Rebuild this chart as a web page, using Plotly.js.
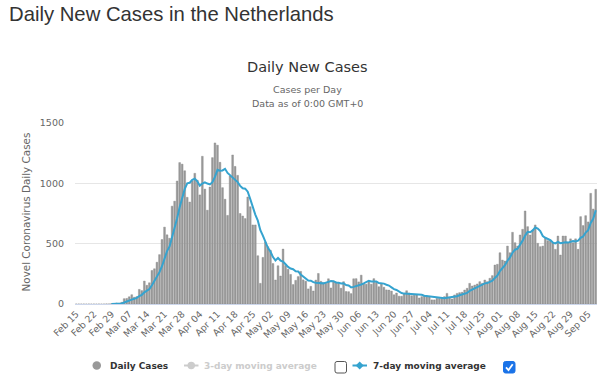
<!DOCTYPE html>
<html>
<head>
<meta charset="utf-8">
<script src="https://cdn.plot.ly/plotly-3.0.1.min.js"></script>
<style>
html,body{margin:0;padding:0;background:#fff;}
#chart{width:600px;height:380px;}
</style>
</head>
<body>
<div id="chart"></div>
<script>
// ---------- DATA ----------
const startDate = '2020-02-15';
const endDate = '2020-09-08';

const dailyCases = [
0,0,0,0,0,0,0,0,0,0,0,0,
1,1,4,4,8,6,14,44,46,60,
77,56,61,121,111,190,155,176,278,292,
346,409,534,637,573,545,811,852,1019,1172,
1159,1104,884,845,1019,1083,1026,904,1224,952,
777,969,1213,1335,1316,1174,964,868,734,1061,
1235,1140,1066,750,729,708,887,806,655,655,
400,171,386,514,475,445,335,199,317,232,
455,319,289,245,161,196,227,270,200,189,
125,146,108,198,253,188,176,172,209,133,
190,182,176,131,185,103,102,86,209,210,
183,239,165,164,184,164,210,179,143,165,
139,117,115,107,76,91,65,64,82,110,
91,69,73,76,50,61,66,66,61,34,
34,47,47,47,61,88,55,42,75,88,
94,97,116,130,171,149,157,166,185,171,
199,185,213,235,323,329,425,364,356,480,
425,594,508,480,572,619,771,641,572,613,
655,503,475,480,544,525,530,508,453,563,
406,563,563,508,540,508,540,453,724,650,
732,680,917,787,950
];

const movingAvg7 = [
null,null,null,null,null,null,null,null,null,null,null,null,null,null,
1,1,3,3,5,12,18,26,36,43,
51,66,76,97,110,124,156,189,221,264,
313,382,438,477,551,623,710,801,876,952,
1000,1005,1029,1038,1017,981,998,1008,998,991,
1009,1053,1112,1105,1107,1120,1086,1065,1050,1025,
1010,979,959,956,931,869,800,741,691,612,
566,512,465,435,389,361,382,360,351,329,
307,294,288,271,270,244,227,213,195,193,
181,177,174,172,171,177,186,190,189,179,
177,170,172,157,153,138,142,147,154,162,
171,179,193,187,187,186,173,173,169,160,
153,138,123,116,101,91,86,85,83,82,
79,81,79,76,69,66,65,59,53,53,
51,48,47,51,54,55,59,65,72,77,
81,92,110,121,131,141,153,161,171,173,
182,193,216,236,273,296,321,359,386,425,
450,458,488,525,567,598,595,610,635,625,
604,563,549,542,530,509,502,515,504,507,
512,509,514,522,518,525,548,560,592,612,
671,706,777
];

const tickDates = [
'2020-02-15','2020-02-22','2020-02-29','2020-03-07','2020-03-14','2020-03-21','2020-03-28',
'2020-04-04','2020-04-11','2020-04-18','2020-04-25','2020-05-02','2020-05-09','2020-05-16',
'2020-05-23','2020-05-30','2020-06-06','2020-06-13','2020-06-20','2020-06-27','2020-07-04',
'2020-07-11','2020-07-18','2020-07-25','2020-08-01','2020-08-08','2020-08-15','2020-08-22',
'2020-08-29','2020-09-05'
];
const tickLabels = [
'Feb 15','Feb 22','Feb 29','Mar 07','Mar 14','Mar 21','Mar 28',
'Apr 04','Apr 11','Apr 18','Apr 25','May 02','May 09','May 16',
'May 23','May 30','Jun 06','Jun 13','Jun 20','Jun 27','Jul 04',
'Jul 11','Jul 18','Jul 25','Aug 01','Aug 08','Aug 15','Aug 22',
'Aug 29','Sep 05'
];
const yTicks = [0, 500, 1000, 1500];

const pageTitle = 'Daily New Cases in the Netherlands';
const chartTitle = 'Daily New Cases';
const subtitle1 = 'Cases per Day';
const subtitle2 = 'Data as of 0:00 GMT+0';
const yTitle = 'Novel Coronavirus Daily Cases';
const legendNames = ['Daily Cases', '3-day moving average', '7-day moving average'];

// ---------- dates (consecutive days) ----------
const dates = [];
{
  const d = new Date(startDate + 'T00:00:00Z');
  for (let i = 0; i < dailyCases.length; i++) {
    dates.push(d.toISOString().slice(0, 10));
    d.setUTCDate(d.getUTCDate() + 1);
  }
}

// ---------- layout geometry ----------
const W = 600, H = 380;
const L = 75, R = 3, T = 123, B = 76;
const PW = W - L - R, PH = H - T - B;
const X = px => (px - L) / PW;
const Y = py => (H - B - py) / PH;

const FONT = 'DejaVu Sans, Verdana, sans-serif';
const BLUE = '#35a3cf';

function roundRect(x0, y0, x1, y1, r) {
  const p = (x, y) => X(x) + ',' + Y(y);
  return 'M' + p(x0 + r, y0) + ' L' + p(x1 - r, y0) + ' Q' + p(x1, y0) + ' ' + p(x1, y0 + r) +
    ' L' + p(x1, y1 - r) + ' Q' + p(x1, y1) + ' ' + p(x1 - r, y1) +
    ' L' + p(x0 + r, y1) + ' Q' + p(x0, y1) + ' ' + p(x0, y1 - r) +
    ' L' + p(x0, y0 + r) + ' Q' + p(x0, y0) + ' ' + p(x0 + r, y0) + ' Z';
}
function diamond(cx, cy, s) {
  return 'M' + X(cx) + ',' + Y(cy - s) + ' L' + X(cx + s) + ',' + Y(cy) +
    ' L' + X(cx) + ',' + Y(cy + s) + ' L' + X(cx - s) + ',' + Y(cy) + ' Z';
}
function poly(pts) {
  return pts.map((q, i) => (i ? 'L' : 'M') + X(q[0]) + ',' + Y(q[1])).join(' ');
}

const traces = [
  {
    type: 'bar',
    x: dates,
    y: dailyCases,
    name: legendNames[0],
    marker: { color: '#9a9a9a', line: { color: '#858585', width: 0.4 } },
    showlegend: false,
    hoverinfo: 'skip'
  },
  {
    type: 'scatter',
    mode: 'lines',
    x: dates,
    y: movingAvg7,
    name: legendNames[2],
    line: { color: BLUE, width: 2 },
    connectgaps: false,
    showlegend: false,
    hoverinfo: 'skip'
  }
];

const legY = 365.5;
const shapes = [
  { type: 'circle', xref: 'paper', yref: 'paper', x0: X(92.5), x1: X(101), y0: Y(369.8), y1: Y(361.3),
    fillcolor: '#999999', line: { width: 0 } },
  { type: 'line', xref: 'paper', yref: 'paper', x0: X(184), x1: X(198.5), y0: Y(legY), y1: Y(legY),
    line: { color: '#cccccc', width: 2 } },
  { type: 'circle', xref: 'paper', yref: 'paper', x0: X(187.5), x1: X(195), y0: Y(legY + 3.7), y1: Y(legY - 3.7),
    fillcolor: '#cccccc', line: { width: 0 } },
  { type: 'path', xref: 'paper', yref: 'paper', path: roundRect(335, 361.5, 346.5, 373, 2),
    fillcolor: '#ffffff', line: { color: '#555555', width: 1 } },
  { type: 'line', xref: 'paper', yref: 'paper', x0: X(352.5), x1: X(367), y0: Y(legY), y1: Y(legY),
    line: { color: BLUE, width: 2 } },
  { type: 'path', xref: 'paper', yref: 'paper', path: diamond(359.7, legY, 4),
    fillcolor: BLUE, line: { width: 0 } },
  { type: 'path', xref: 'paper', yref: 'paper', path: roundRect(503.5, 361.5, 515, 373, 2),
    fillcolor: '#1a73e8', line: { color: '#1a73e8', width: 1 } },
  { type: 'path', xref: 'paper', yref: 'paper', path: poly([[506, 367.3], [508.5, 370], [512.7, 364.3]]),
    line: { color: '#ffffff', width: 1.8 } }
];

const ann = (text, px, py, opts) => Object.assign({
  text: text, xref: 'paper', yref: 'paper', x: X(px), y: Y(py),
  showarrow: false, xanchor: 'center', yanchor: 'middle'
}, opts);

const annotations = [
  ann(pageTitle, 6.5, 14, { xanchor: 'left', font: { family: 'Liberation Sans, Arial, sans-serif', size: 20.3, color: '#333333' } }),
  ann(chartTitle, 307, 66.5, { font: { family: FONT, size: 14.5, color: '#333333' } }),
  ann(subtitle1, 307, 90, { font: { family: FONT, size: 9.5, color: '#666666' } }),
  ann(subtitle2, 307, 103, { font: { family: FONT, size: 9.5, color: '#666666' } }),
  ann(yTitle, 25, 212.5, { textangle: -90, font: { family: FONT, size: 10.4, color: '#666666' } }),
  ann('<b>' + legendNames[0] + '</b>', 107.5, legY, { xanchor: 'left', font: { family: FONT, size: 9, color: '#333333' } }),
  ann('<b>' + legendNames[1] + '</b>', 202, legY, { xanchor: 'left', font: { family: FONT, size: 9, color: '#cccccc' } }),
  ann('<b>' + legendNames[2] + '</b>', 370.5, legY, { xanchor: 'left', font: { family: FONT, size: 9, color: '#333333' } })
];

const layout = {
  width: W, height: H,
  margin: { l: L, r: R, t: T, b: B, pad: 0 },
  paper_bgcolor: '#ffffff', plot_bgcolor: '#ffffff',
  showlegend: false,
  bargap: 0.3,
  font: { family: FONT, color: '#666666' },
  xaxis: {
    type: 'date',
    range: ['2020-02-14 12:00', endDate + ' 12:00'],
    tickmode: 'array', tickvals: tickDates, ticktext: tickLabels,
    tickangle: -45,
    tickfont: { family: FONT, size: 9.3, color: '#666666' },
    showgrid: false, zeroline: false,
    showline: true, linecolor: '#ccd6eb', linewidth: 1,
    ticks: '', fixedrange: true
  },
  yaxis: {
    range: [0, 1500],
    tickmode: 'array', tickvals: yTicks, ticktext: yTicks.map(String),
    tickfont: { family: FONT, size: 9.5, color: '#666666' },
    showgrid: true, gridcolor: '#e6e6e6', gridwidth: 1,
    zeroline: false, showline: false, ticks: '',
    ticklabelstandoff: 10, fixedrange: true
  },
  shapes: shapes,
  annotations: annotations
};

Plotly.newPlot('chart', traces, layout, { displayModeBar: false, staticPlot: true });
</script>
</body>
</html>
